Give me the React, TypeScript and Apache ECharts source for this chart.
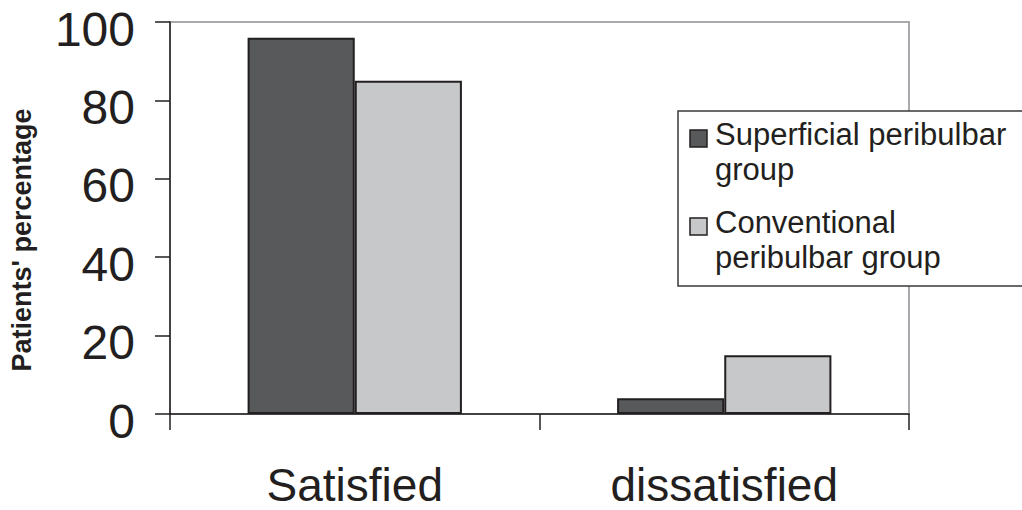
import React, { useEffect, useRef } from "react";
import * as echarts from "echarts";

const categories = ["Satisfied", "dissatisfied"];
const superficial = [96, 4];
const conventional = [85, 15];
const legendLines1 = "Superficial peribulbar\ngroup";
const legendLines2 = "Conventional\nperibulbar group";
const seriesNames = ["Superficial peribulbar group", "Conventional peribulbar group"];
const yTitle = "Patients' percentage";

const FONT = "'Liberation Sans', Arial, Helvetica, sans-serif";
const DARK = "#58595b";
const LIGHT = "#c7c8ca";
const EDGE = "#231f20";

export default function App() {
  const ref = useRef<HTMLDivElement>(null);
  useEffect(() => {
    if (!ref.current) return;
    const chart = echarts.init(ref.current, undefined, { renderer: "svg" });
    chart.setOption({
      animation: false,
      backgroundColor: "#ffffff",
      grid: {
        left: 170,
        right: 113,
        top: 22,
        bottom: 96,
        outerBoundsMode: "none",
        containLabel: false,
        show: true,
        borderColor: "#a7a9ac",
        borderWidth: 2,
        backgroundColor: "transparent",
      },
      xAxis: {
        type: "category",
        data: categories,
        boundaryGap: true,
        axisLine: { lineStyle: { color: EDGE, width: 1.5 } },
        axisTick: { show: true, length: 16, alignWithLabel: false, lineStyle: { color: EDGE, width: 1.5 } },
        axisLabel: { fontSize: 46, lineHeight: 46, fontFamily: FONT, color: EDGE, margin: 48 },
        splitLine: { show: false },
      },
      yAxis: {
        type: "value",
        min: 0,
        max: 100,
        interval: 20,
        name: yTitle,
        nameLocation: "middle",
        nameGap: 135,
        nameTextStyle: {
          fontSize: 27,
          fontWeight: "bold",
          fontFamily: FONT,
          color: EDGE,
          padding: [0, 44, 0, 0],
        },
        axisLine: { show: true, lineStyle: { color: EDGE, width: 1.5 } },
        axisTick: { show: true, length: 15, lineStyle: { color: EDGE, width: 1.5 } },
        axisLabel: {
          fontSize: 48,
          lineHeight: 14,
          verticalAlign: "top",
          fontFamily: FONT,
          color: EDGE,
          margin: 35,
        },
        splitLine: { show: false },
      },
      series: [
        {
          name: seriesNames[0],
          type: "bar",
          data: superficial,
          barGap: "0%",
          barCategoryGap: "42%",
          itemStyle: { color: DARK, borderColor: EDGE, borderWidth: 2 },
        },
        {
          name: seriesNames[1],
          type: "bar",
          data: conventional,
          barGap: "0%",
          barCategoryGap: "42%",
          itemStyle: { color: LIGHT, borderColor: EDGE, borderWidth: 2 },
        },
      ],
      graphic: [
        {
          type: "rect",
          shape: { x: 678, y: 111, width: 360, height: 175 },
          style: { fill: "#ffffff", stroke: "#3a3a3a", lineWidth: 1.5 },
          z: 10,
        },
        {
          type: "rect",
          shape: { x: 690, y: 130, width: 17, height: 17 },
          style: { fill: DARK, stroke: EDGE, lineWidth: 1.5 },
          z: 11,
        },
        {
          type: "text",
          x: 715,
          y: 117,
          style: { text: legendLines1, fontSize: 31, fontFamily: FONT, fill: EDGE, lineHeight: 35 },
          z: 11,
        },
        {
          type: "rect",
          shape: { x: 690, y: 218, width: 17, height: 17 },
          style: { fill: LIGHT, stroke: EDGE, lineWidth: 1.5 },
          z: 11,
        },
        {
          type: "text",
          x: 715,
          y: 205,
          style: { text: legendLines2, fontSize: 31, fontFamily: FONT, fill: EDGE, lineHeight: 35 },
          z: 11,
        },
      ],
    });
    return () => chart.dispose();
  }, []);
  return (
    <div
      ref={ref}
      style={{ position: "absolute", left: 0, top: 0, width: 1022, height: 510 }}
    />
  );
}
